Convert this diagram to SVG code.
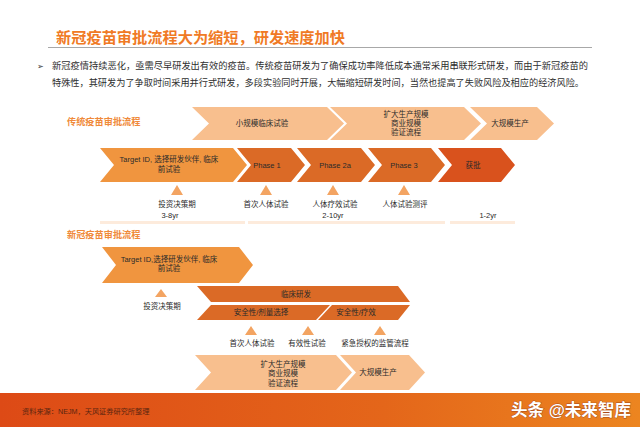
<svg xmlns="http://www.w3.org/2000/svg" width="640" height="427" viewBox="0 0 640 427">
<defs>
<linearGradient id="foot" x1="0" y1="0" x2="1" y2="0">
<stop offset="0" stop-color="#DD4A16"/>
<stop offset="0.6" stop-color="#E4661A"/>
<stop offset="1" stop-color="#EC8520"/>
</linearGradient>
<style>
text{font-family:"Liberation Sans","Noto Sans CJK SC",sans-serif;}
.lbl{font-size:7.5px;fill:#2A2A2A;text-anchor:middle;dominant-baseline:central;}
.body{font-size:9.2px;fill:#2E2E2E;dominant-baseline:central;}
.sec{font-size:9.2px;font-weight:bold;fill:#F08A3A;dominant-baseline:central;}
.light{fill:#F8BF8E;}
.mid{fill:#F0953F;}
.dark{fill:#DB6A26;}
.red{fill:#D9521D;}
.tri{fill:#F3A462;}
.bar{fill:#FDEBDC;}
</style>
</defs>
<rect width="640" height="427" fill="#FFFFFF"/>

<g id="header">
<text x="56" y="37" font-size="15.2" font-weight="bold" fill="#F07A25" dominant-baseline="central" textLength="289" lengthAdjust="spacingAndGlyphs">新冠疫苗审批流程大为缩短，研发速度加快</text>
<line x1="48" y1="47.5" x2="592" y2="47.5" stroke="#A8A8A8" stroke-width="1"/>
<text x="37" y="66" font-size="8" fill="#333" dominant-baseline="central" style="font-family:'DejaVu Sans',sans-serif">➢</text>
<text class="body" x="52" y="66" textLength="536" lengthAdjust="spacingAndGlyphs">新冠疫情持续恶化，亟需尽早研发出有效的疫苗。传统疫苗研发为了确保成功率降低成本通常采用串联形式研发，而由于新冠疫苗的</text>
<text class="body" x="52" y="82.5" textLength="532" lengthAdjust="spacingAndGlyphs">特殊性，其研发为了争取时间采用并行式研发，多段实验同时开展，大幅缩短研发时间，当然也提高了失败风险及相应的经济风险。</text>
</g>

<g id="traditional-title"><text class="sec" x="67" y="122">传统疫苗审批流程</text></g>

<g id="trad-small-trial">
<path class="light" d="M192,107 L327,107 L344,123.5 L327,140 L192,140 L209,123.5 Z"/>
<text class="lbl" x="262" y="123">小规模临床试验</text>
</g>
<g id="trad-scale-up">
<path class="light" d="M330,107 L464,107 L481,123.5 L464,140 L330,140 L347,123.5 Z"/>
<text class="lbl" x="406" y="114.5">扩大生产规模</text>
<text class="lbl" x="406" y="123.5">商业规模</text>
<text class="lbl" x="406" y="132.5">验证流程</text>
</g>
<g id="trad-mass-production">
<path class="light" d="M470,107 L537,107 L554,123.5 L537,140 L470,140 L487,123.5 Z"/>
<text class="lbl" x="510" y="123">大规模生产</text>
</g>

<g id="trad-target">
<path class="mid" d="M100,148 L233,148 L247,165 L233,182 L100,182 L114,165 Z"/>
<text class="lbl" x="169" y="159.5">Target ID, 选择研发伙伴, 临床</text>
<text class="lbl" x="169" y="169">前试验</text>
</g>
<g id="trad-phase1">
<path class="dark" d="M237,148 L291,148 L305,165 L291,182 L237,182 L251,165 Z"/>
<text class="lbl" x="267" y="165">Phase 1</text>
</g>
<g id="trad-phase2a">
<path class="dark" d="M297,148 L361,148 L375,165 L361,182 L297,182 L311,165 Z"/>
<text class="lbl" x="335" y="165">Phase 2a</text>
</g>
<g id="trad-phase3">
<path class="dark" d="M368,148 L431,148 L445,165 L431,182 L368,182 L382,165 Z"/>
<text class="lbl" x="404" y="165">Phase 3</text>
</g>
<g id="trad-approval">
<path class="red" d="M438,148 L501,148 L515,165 L501,182 L438,182 L452,165 Z"/>
<text class="lbl" x="473" y="165">获批</text>
</g>

<g id="trad-milestones">
<path class="tri" d="M177,185 L183,195 L171,195 Z"/>
<path class="tri" d="M266,185 L272,195 L260,195 Z"/>
<path class="tri" d="M333,185 L339,195 L327,195 Z"/>
<path class="tri" d="M404,185 L410,195 L398,195 Z"/>
<text class="lbl" x="177" y="204">投资决策期</text>
<text class="lbl" x="266" y="204">首次人体试验</text>
<text class="lbl" x="335" y="204">人体疗效试验</text>
<text class="lbl" x="405" y="204">人体试验测评</text>
<text class="lbl" x="170" y="215.5">3-8yr</text>
<text class="lbl" x="333" y="215.5">2-10yr</text>
<text class="lbl" x="488" y="215.5">1-2yr</text>
<rect class="bar" x="100" y="221" width="145" height="3"/>
<rect class="bar" x="248" y="221" width="197" height="3"/>
<rect class="bar" x="450" y="221" width="65" height="3"/>
</g>

<g id="covid-title"><text class="sec" x="67" y="235">新冠疫苗审批流程</text></g>

<g id="covid-target">
<path class="mid" d="M102,247 L239,247 L253,265 L239,283 L102,283 L116,265 Z"/>
<text class="lbl" x="169" y="259">Target ID,选择研发伙伴, 临床</text>
<text class="lbl" x="169" y="268.5">前试验</text>
</g>

<g id="covid-clinical">
<path class="dark" d="M197,286 L398,286 L410,302 L211,302 Z"/>
<text class="lbl" x="296" y="294">临床研发</text>
</g>
<g id="covid-safety-dose">
<path class="dark" d="M211,305 L330,305 L316,320 L197,320 Z"/>
<text class="lbl" x="261" y="312.5">安全性/剂量选择</text>
</g>
<g id="covid-safety-efficacy">
<path class="dark" d="M332,305 L410,305 L398,320 L318,320 Z"/>
<text class="lbl" x="356" y="312.5">安全性/疗效</text>
</g>

<g id="covid-milestones">
<path class="tri" d="M161,289 L167,297 L155,297 Z"/>
<text class="lbl" x="162" y="306">投资决策期</text>
<path class="tri" d="M251,326 L257,335 L245,335 Z"/>
<path class="tri" d="M308,326 L314,335 L302,335 Z"/>
<path class="tri" d="M380,326 L386,335 L374,335 Z"/>
<text class="lbl" x="252" y="343.5">首次人体试验</text>
<text class="lbl" x="307" y="343.5">有效性试验</text>
<text class="lbl" x="375" y="343.5">紧急授权的监管流程</text>
</g>

<g id="covid-scale-up">
<path class="light" d="M195,355 L336,355 L352,372.5 L336,390 L195,390 L211,372.5 Z"/>
<text class="lbl" x="283" y="364">扩大生产规模</text>
<text class="lbl" x="283" y="373.5">商业规模</text>
<text class="lbl" x="283" y="383">验证流程</text>
</g>
<g id="covid-mass-production">
<path class="light" d="M340,355 L409,355 L425,372.5 L409,390 L340,390 L356,372.5 Z"/>
<text class="lbl" x="378" y="372.5">大规模生产</text>
</g>

<g id="connectors"></g>

<g id="footer">
<rect x="0" y="393" width="640" height="34" fill="url(#foot)"/>
<text x="22" y="411" font-size="7.2" fill="#5A2510" dominant-baseline="central">资料来源：NEJM，天风证券研究所整理</text>
<text x="511" y="410" font-size="17" font-weight="bold" fill="#FFFFFF" dominant-baseline="central" textLength="120" lengthAdjust="spacingAndGlyphs" style="paint-order:stroke" stroke="#A8481A" stroke-width="0.8">头条 @未来智库</text>
</g>
</svg>
